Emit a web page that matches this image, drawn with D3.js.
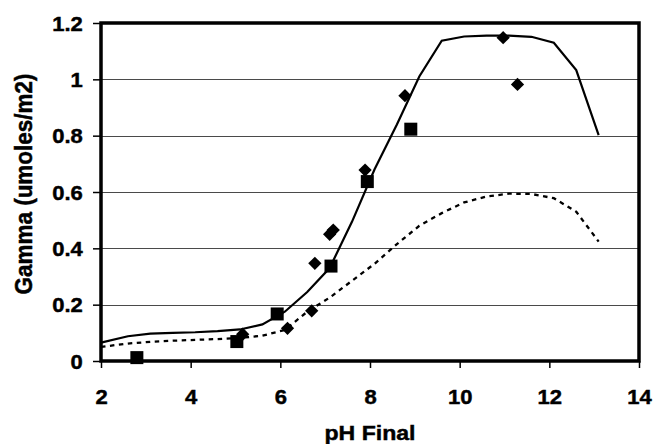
<!DOCTYPE html>
<html><head><meta charset="utf-8">
<script src="https://cdn.jsdelivr.net/npm/d3@7"></script>
<style>body{margin:0;background:#fff}svg{display:block}text{font-family:"Liberation Sans",Arial,sans-serif;font-weight:bold;fill:#000;stroke:#000;stroke-width:0.45px}</style>
</head><body>
<svg id="c" width="653" height="444"></svg>
<script>
const xTicks = [2, 4, 6, 8, 10, 12, 14];
const yTicks = [0, 0.2, 0.4, 0.6, 0.8, 1, 1.2];
const yTickLabels = ["0", "0.2", "0.4", "0.6", "0.8", "1", "1.2"];
const curvePH = [2.0, 2.6, 3.1, 3.6, 4.1, 4.6, 5.1, 5.6, 6.1, 6.6, 7.1, 7.6, 8.1, 8.6, 9.1, 9.6, 10.1, 10.6, 11.1, 11.6, 12.1, 12.6, 13.1];
const solidGamma = [0.065, 0.088, 0.097, 0.100, 0.102, 0.106, 0.112, 0.130, 0.175, 0.245, 0.330, 0.495, 0.680, 0.840, 1.010, 1.137, 1.152, 1.155, 1.155, 1.151, 1.130, 1.033, 0.802];
const dashedGamma = [0.050, 0.062, 0.068, 0.072, 0.075, 0.078, 0.082, 0.090, 0.110, 0.175, 0.225, 0.285, 0.345, 0.415, 0.480, 0.525, 0.563, 0.584, 0.594, 0.593, 0.578, 0.530, 0.424];
const squarePH = [2.80, 5.03, 5.93, 7.13, 7.94, 8.91];
const squareGamma = [0.012, 0.069, 0.167, 0.337, 0.637, 0.823];
const diamondPH = [5.16, 6.16, 6.70, 6.77, 7.10, 7.18, 7.89, 8.78, 10.97, 11.29];
const diamondGamma = [0.095, 0.116, 0.178, 0.347, 0.450, 0.465, 0.678, 0.942, 1.148, 0.982];
const xTitle = "pH Final";
const yTitle = "Gamma (umoles/m2)";

const svg = d3.select("#c");
const L = 101, R = 639, T = 23, B = 361;
const x = d3.scaleLinear().domain([2, 14]).range([L, R]);
const y = d3.scaleLinear().domain([0, 1.2]).range([B, T]);

// gridlines
svg.append("g").selectAll("line").data(yTicks.filter(v => v > 0 && v < 1.2)).join("line")
  .attr("x1", L).attr("x2", R).attr("y1", d => Math.round(y(d)) + 0.5).attr("y2", d => Math.round(y(d)) + 0.5)
  .attr("stroke", "#4a4a4a").attr("stroke-width", 1.2);

// axes
const yAxis = svg.append("g").attr("transform", `translate(${L},0)`)
  .call(d3.axisLeft(y).tickValues(yTicks).tickSize(8).tickFormat((d, i) => yTickLabels[i]));
yAxis.select(".domain").remove();
yAxis.selectAll(".tick line").attr("stroke", "#000").attr("stroke-width", 1.5);
yAxis.selectAll(".tick text").attr("x", -16.5).attr("dy", "0.36em")
  .attr("transform", "scale(1.1,1)").style("font-size", "20px").style("font-family", "Liberation Sans, Arial, sans-serif").style("font-weight", "bold").attr("fill", "#000");

const xAxis = svg.append("g").attr("transform", `translate(0,${B})`)
  .call(d3.axisBottom(x).tickValues(xTicks).tickSize(7).tickFormat(d3.format("d")));
xAxis.select(".domain").remove();
xAxis.selectAll(".tick line").attr("stroke", "#000").attr("stroke-width", 1.5);
xAxis.selectAll(".tick text").attr("y", 43).attr("dy", 0)
  .attr("transform", "scale(1.1,1)").style("font-size", "20px").style("font-family", "Liberation Sans, Arial, sans-serif").style("font-weight", "bold").attr("fill", "#000");

// frame
svg.append("rect").attr("x", L).attr("y", T).attr("width", R - L).attr("height", B - T)
  .attr("fill", "none").attr("stroke", "#000").attr("stroke-width", 3.5);

// lines
const line = d3.line().x(d => x(d[0])).y(d => y(d[1]));
svg.append("path").datum(curvePH.map((p, i) => [p, dashedGamma[i]]))
  .attr("d", line).attr("fill", "none").attr("stroke", "#000").attr("stroke-width", 2.3).attr("stroke-dasharray", "4.5,4.5");
svg.append("path").datum(curvePH.map((p, i) => [p, solidGamma[i]]))
  .attr("d", line).attr("fill", "none").attr("stroke", "#000").attr("stroke-width", 2.2);

// markers
svg.append("g").selectAll("rect").data(squarePH.map((p, i) => [p, squareGamma[i]])).join("rect")
  .attr("x", d => x(d[0]) - 6.5).attr("y", d => y(d[1]) - 6.5).attr("width", 13).attr("height", 13).attr("fill", "#000");
svg.append("g").selectAll("path").data(diamondPH.map((p, i) => [p, diamondGamma[i]])).join("path")
  .attr("d", d3.symbol().type(d3.symbolSquare).size(88))
  .attr("transform", d => `translate(${x(d[0])},${y(d[1])}) rotate(45)`)
  .attr("fill", "#000");

// titles
svg.append("text").attr("transform", `translate(370,440) scale(1.1,1)`).attr("text-anchor", "middle")
  .style("font-size", "21px").text(xTitle);
svg.append("text").attr("transform", `translate(31.5,184) rotate(-90) scale(1,1.1)`).attr("text-anchor", "middle")
  .style("font-size", "22.5px").text(yTitle);
</script>
</body></html>
